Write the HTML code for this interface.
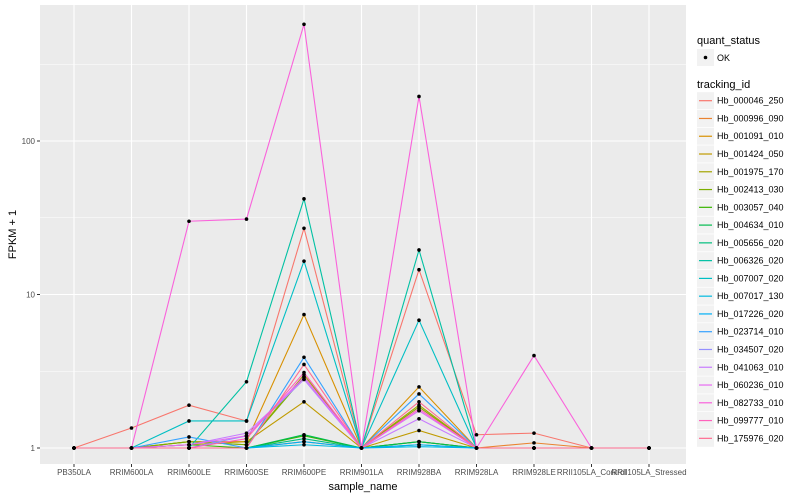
<!DOCTYPE html>
<html><head><meta charset="utf-8"><style>
body{margin:0;background:#fff;}
svg{display:block;font-family:"Liberation Sans",sans-serif;}
</style></head><body>
<svg id="chart" width="800" height="500"></svg>
<script>
const samples=["PB350LA","RRIM600LA","RRIM600LE","RRIM600SE","RRIM600PE","RRIM901LA","RRIM928BA","RRIM928LA","RRIM928LE","RRII105LA_Control","RRII105LA_Stressed"];
const trackingIds=["Hb_000046_250","Hb_000996_090","Hb_001091_010","Hb_001424_050","Hb_001975_170","Hb_002413_030","Hb_003057_040","Hb_004634_010","Hb_005656_020","Hb_006326_020","Hb_007007_020","Hb_007017_130","Hb_017226_020","Hb_023714_010","Hb_034507_020","Hb_041063_010","Hb_060236_010","Hb_082733_010","Hb_099777_010","Hb_175976_020"];
const s000046=[1,1.35,1.9,1.5,27,1,14.5,1.22,1.25,1,1];
const s000996=[1,1,1,1,1.1,1,1.1,1,1.08,1,1];
const s001091=[1,1,1.1,1.1,7.4,1,2.5,1,1,1,1];
const s001424=[1,1,1.05,1.1,2.0,1,1.3,1,1,1,1];
const s001975=[1,1,1.1,1.05,3.0,1,1.9,1,1,1,1];
const s002413=[1,1,1.1,1.05,2.9,1,1.85,1,1,1,1];
const s003057=[1,1,1.05,1,1.2,1,1.1,1,1,1,1];
const s004634=[1,1,1,1,1.22,1,1.1,1,1,1,1];
const s005656=[1,1,1,1,1.15,1,1.05,1,1,1,1];
const s006326=[1,1,1,2.7,42,1,19.5,1,1,1,1];
const s007007=[1,1,1.5,1.5,16.5,1,6.8,1,1,1,1];
const s007017=[1,1,1,1,1.05,1,1.02,1,1,1,1];
const s017226=[1,1,1,1,1.1,1,1.05,1,1,1,1];
const s023714=[1,1,1.18,1,3.9,1,2.25,1,1,1,1];
const s034507=[1,1,1,1.2,2.8,1,1.75,1,1,1,1];
const s041063=[1,1,1.05,1.25,2.8,1,1.55,1,1,1,1];
const s060236=[1,1,1.05,1.2,2.9,1,1.75,1,1,1,1];
const s082733=[1,1,30,31,576,1,195,1,4,1,1];
const s099777=[1,1,1,1.15,3.1,1,1.8,1,1,1,1];
const s175976=[1,1,1,1,3.5,1,2.0,1,1,1,1];
const series=[s000046,s000996,s001091,s001424,s001975,s002413,s003057,s004634,s005656,s006326,s007007,s007017,s017226,s023714,s034507,s041063,s060236,s082733,s099777,s175976];
const yTicks=[1,10,100];
const colors=["#F8766D","#EA8331","#D89000","#C09B00","#A3A500","#7CAE00","#39B600","#00BB4E","#00BF7D","#00C1A3","#00BFC4","#00BAE0","#00B0F6","#35A2FF","#9590FF","#C77CFF","#E76BF3","#FA62DB","#FF62BC","#FF6C91"];

const NS="http://www.w3.org/2000/svg";
const svg=document.getElementById('chart');
function mk(tag,attrs,parent){const e=document.createElementNS(NS,tag);for(const k in attrs)e.setAttribute(k,attrs[k]);(parent||svg).appendChild(e);return e;}
const L=40,R=686,T=5,B=464;
const x=i=>74+i*57.5;
const y=v=>448-Math.log10(v)*153.5;

const panel=mk('rect',{x:L,y:T,width:R-L,height:B-T,fill:'#EBEBEB'});


[0.5,1.5,2.5].forEach(l=>{const g=mk('line',{x1:L,x2:R,y1:y(Math.pow(10,l)),y2:y(Math.pow(10,l)),stroke:'#fff','stroke-width':0.5});

});
yTicks.forEach(t=>{const g=mk('line',{x1:L,x2:R,y1:y(t),y2:y(t),stroke:'#fff','stroke-width':1.1});


const tk=mk('line',{x1:L-3,x2:L,y1:y(t),y2:y(t),stroke:'#333','stroke-width':1});


const lb=mk('text',{x:L-5,y:y(t)+3,'text-anchor':'end','font-size':8,fill:'#4D4D4D'});lb.textContent=t;

});
samples.forEach((s,i)=>{const g=mk('line',{x1:x(i),x2:x(i),y1:T,y2:B,stroke:'#fff','stroke-width':1.1});


const tk=mk('line',{x1:x(i),x2:x(i),y1:B,y2:B+3,stroke:'#333','stroke-width':1});


const lb=mk('text',{x:x(i),y:B+11,'text-anchor':'middle','font-size':8,fill:'#4D4D4D'});lb.textContent=s;

});
series.forEach((vals,k)=>{const p=mk('polyline',{points:vals.map((v,i)=>x(i)+','+y(v)).join(' '),fill:'none',stroke:colors[k],'stroke-width':1.1});

});
series.forEach(vals=>vals.forEach((v,i)=>{const c=mk('circle',{cx:x(i),cy:y(v),r:1.8,fill:'#000'});

}));
const xt=mk('text',{x:(L+R)/2,y:490,'text-anchor':'middle','font-size':11,fill:'#000'});xt.textContent='sample_name';


const yt=mk('text',{x:0,y:0,'text-anchor':'middle','font-size':11,fill:'#000',transform:'translate(16,'+((T+B)/2)+') rotate(-90)'});yt.textContent='FPKM + 1';


const lt1=mk('text',{x:697,y:44,'font-size':11,fill:'#000'});lt1.textContent='quant_status';


const kb=mk('rect',{x:697,y:49,width:17,height:17,fill:'#F2F2F2'});


const kd=mk('circle',{cx:705.5,cy:57.5,r:1.8,fill:'#000'});


const ko=mk('text',{x:717,y:61,'font-size':9,fill:'#000'});ko.textContent='OK';


const lt2=mk('text',{x:697,y:88,'font-size':11,fill:'#000'});lt2.textContent='tracking_id';


trackingIds.forEach((n,k)=>{const cy=100.7+k*17.77;
const b=mk('rect',{x:697,y:cy-8.5,width:17,height:17,fill:'#F2F2F2'});


const l=mk('line',{x1:699,x2:712,y1:cy,y2:cy,stroke:colors[k],'stroke-width':1.2});


const t=mk('text',{x:717,y:cy+3,'font-size':9,fill:'#000'});t.textContent=n;

});
</script>
</body></html>
